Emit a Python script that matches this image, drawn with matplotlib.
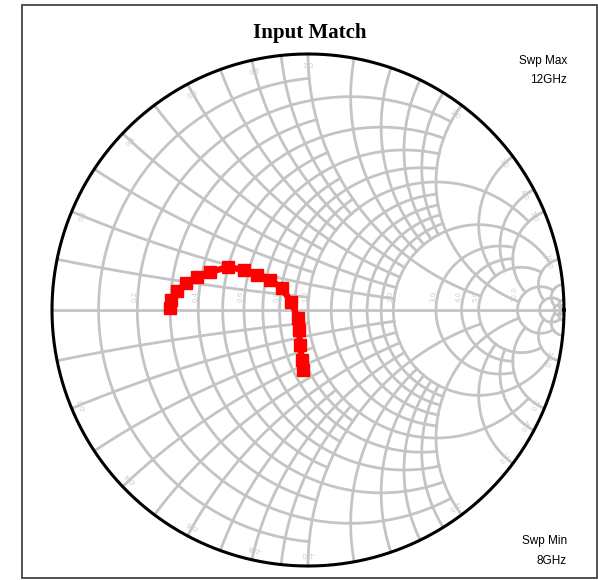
import numpy as np
import matplotlib
matplotlib.use('Agg')
import matplotlib.pyplot as plt
from matplotlib.patches import Rectangle

# S11 trace, 8 GHz .. 12 GHz (reflection coeff.)
s11_re = [-0.020, -0.023, -0.031, -0.035, -0.039, -0.066, -0.102, -0.148,
          -0.199, -0.250, -0.313, -0.383, -0.434, -0.477, -0.512, -0.535, -0.539]
s11_im = [-0.234, -0.195, -0.137, -0.078, -0.031, 0.031, 0.086, 0.117,
          0.137, 0.156, 0.168, 0.148, 0.129, 0.105, 0.074, 0.039, 0.008]

# grid values and how far each line runs
grid_vals = [0.1, 0.2, 0.3, 0.4, 0.5, 0.6, 0.7, 0.8, 0.9, 1.0,
             1.2, 1.4, 1.6, 1.8, 2.0, 3.0, 4.0, 5.0, 10.0, 20.0, 50.0]
grid_lim = [1, 2, 1, 2, 1, 2, 1, 2, 1, 5,
            2, 2, 2, 2, 10, 5, 5, 10, 20, 50, 1e6]
label_vals = [0.2, 0.4, 0.6, 0.8, 1.0, 2.0, 3.0, 4.0, 5.0, 10.0]

W, H = 598, 580
cx, cy, R = 308, 310, 256

fig = plt.figure(figsize=(W / 100, H / 100), dpi=100)
ax = fig.add_axes([0, 0, 1, 1])
ax.set_xlim(-cx / R, (W - cx) / R)
ax.set_ylim((cy - H) / R, cy / R)
ax.axis('off')

gcol = '#c4c4c4'


def gam(z):
    return (z - 1) / (z + 1)


t = np.linspace(0, 1, 600)
for v, lim in zip(grid_vals, grid_lim):
    # constant resistance circle
    a = np.arctan(lim)
    xs = np.tan(np.linspace(-a, a, 800))
    g = gam(v + 1j * xs)
    ax.plot(g.real, g.imag, color=gcol, lw=2.0, zorder=1)
    # constant reactance arcs
    rs = np.tan(t * np.arctan(lim))
    for s in (1, -1):
        g = gam(rs + 1j * s * v)
        ax.plot(g.real, g.imag, color=gcol, lw=2.0, zorder=1)

ax.plot([-1, 1], [0, 0], color=gcol, lw=2.0, zorder=1)

# faint value labels
lcol = '#cccccc'
for v in label_vals:
    g = gam(v)
    ax.text(g.real - 0.012, 0.03, f'{v:.1f}', rotation=90, fontsize=5,
            color=lcol, ha='center', va='bottom', zorder=2)
    for s in (1, -1):
        g = gam(1j * s * v) * 0.955
        ang = np.degrees(np.arctan2(g.imag, g.real)) - 90
        ax.text(g.real, g.imag, f'{s * v:.1f}', rotation=ang, fontsize=5,
                color=lcol, ha='center', va='center', zorder=2)

th = np.linspace(0, 2 * np.pi, 800)
ax.plot(np.cos(th), np.sin(th), color='black', lw=2.2, zorder=3)

ax.plot(s11_re, s11_im, color='#ff0000', lw=4.5, marker='s', markersize=8.5,
        zorder=4)

ax.add_patch(Rectangle((22 / W, 1 - 578 / H), 575 / W, 573 / H,
                       transform=ax.transAxes, fill=False, ec='#444444',
                       lw=1.3, zorder=5))

ax.text(310 / W, 1 - 33 / H, 'Input Match', transform=ax.transAxes,
        fontsize=15, fontweight='bold', family='Liberation Serif',
        ha='center', va='center')
ax.text(567 / W, 1 - 61 / H, 'Swp Max', transform=ax.transAxes,
        fontsize=8.5, ha='right', va='center', family='Liberation Sans')
ax.text(567 / W, 1 - 80 / H, '12GHz', transform=ax.transAxes,
        fontsize=8.5, ha='right', va='center', family='Liberation Sans')
ax.text(567 / W, 1 - 541 / H, 'Swp Min', transform=ax.transAxes,
        fontsize=8.5, ha='right', va='center', family='Liberation Sans')
ax.text(567 / W, 1 - 561 / H, '8GHz', transform=ax.transAxes,
        fontsize=8.5, ha='right', va='center', family='Liberation Sans')

fig.savefig('out.png', dpi=100)
